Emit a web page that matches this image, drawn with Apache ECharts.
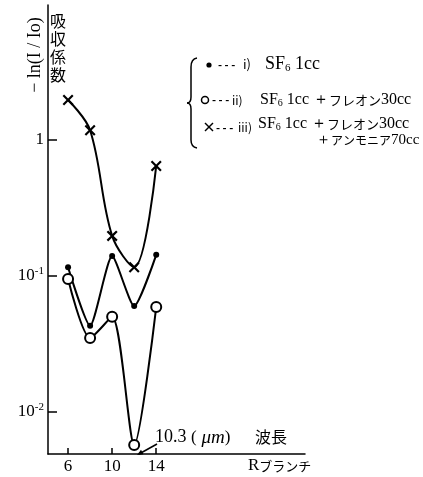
<!DOCTYPE html>
<html>
<head>
<meta charset="utf-8">
<script src="https://cdn.jsdelivr.net/npm/echarts@6/dist/echarts.min.js"></script>
<style>
  html, body { margin: 0; padding: 0; background: #fff; }
  #chart { width: 423px; height: 477px; }
</style>
</head>
<body>
<div id="chart"></div>
<script>
// 波長（Rブランチ）の位置
const branchPos = [6, 8, 10, 12, 14]
// i) SF6 1cc
const sf6Only = [0.116, 0.043, 0.140, 0.060, 0.143]
// ii) SF6 1cc + フレオン30cc
const sf6Freon = [0.095, 0.035, 0.050, 0.0057, 0.059]
// iii) SF6 1cc + フレオン30cc + アンモニア70cc
const sf6FreonNh3 = [1.97, 1.18, 0.197, 0.116, 0.644]
// 軸の目盛
const xTickValues = [6, 10, 14]
const yTickValues = [0.01, 0.1, 1]

const serif = "'Liberation Serif', 'DejaVu Serif', serif"
const jp = "'Noto Sans CJK JP', sans-serif"

const toPairs = arr => branchPos.map((x, i) => [x, arr[i]])

const chart = echarts.init(document.getElementById('chart'))

const crossPath = 'path://M0,1.4L1.4,0L5,3.6L8.6,0L10,1.4L6.4,5L10,8.6L8.6,10L5,6.4L1.4,10L0,8.6L3.6,5Z'

const lineBase = {
  type: 'line',
  smooth: 0.3,
  lineStyle: { color: '#000', width: 2 },
  itemStyle: { color: '#000' },
  emphasis: { disabled: true },
  z: 3
}

const black = { stroke: '#000', lineWidth: 1.5, fill: 'none' }

// 凡例・注記の文字を置く小さな関数
const txt = (x, y, text, font, extra, rotation) => ({
  type: 'text', x: x, y: y, rotation: rotation || 0,
  style: Object.assign({ text: text, font: font, fill: '#000', verticalAlign: 'middle' }, extra || {})
})

// 凡例の一行（SF6 1cc + フレオン30cc）
const mixRich = {
  m: { font: '16px ' + serif, fill: '#000' },
  ms: { font: '10px ' + serif, fill: '#000', padding: [7, 0, 0, 0] },
  j: { font: '13px ' + jp, fill: '#000' }
}
const smallRich = {
  m: { font: '15px ' + serif, fill: '#000' },
  j: { font: '12px ' + jp, fill: '#000' }
}

const option = {
  animation: false,
  backgroundColor: '#fff',
  grid: { left: 48, right: 118, top: 5, bottom: 23 },
  xAxis: {
    type: 'value',
    min: 4.18,
    max: 27.5,
    splitLine: { show: false },
    axisLine: { lineStyle: { color: '#000', width: 1.5 } },
    axisTick: { inside: true, length: 6, customValues: xTickValues, lineStyle: { color: '#000', width: 1.5 } },
    axisLabel: {
      customValues: xTickValues,
      margin: 4,
      color: '#000',
      fontFamily: serif,
      fontSize: 17
    }
  },
  yAxis: {
    type: 'log',
    logBase: 10,
    min: 0.0049,
    max: 9.84,
    splitLine: { show: false },
    axisLine: { lineStyle: { color: '#000', width: 1.5 } },
    axisTick: { inside: true, length: 9, customValues: yTickValues, lineStyle: { color: '#000', width: 1.5 } },
    axisLabel: {
      customValues: yTickValues,
      margin: 4,
      color: '#000',
      fontFamily: serif,
      formatter: v => v >= 1 ? '{b|1}' : '{b|10}{s|-' + Math.round(-Math.log10(v)) + '}',
      rich: {
        b: { fontFamily: serif, fontSize: 17, color: '#000' },
        s: { fontFamily: serif, fontSize: 11, color: '#000', padding: [0, 0, 9, 0] }
      }
    }
  },
  series: [
    Object.assign({}, lineBase, {
      name: 'i',
      data: toPairs(sf6Only),
      symbol: 'circle',
      symbolSize: 6,
      smooth: 0.2
    }),
    Object.assign({}, lineBase, {
      name: 'ii',
      data: toPairs(sf6Freon),
      symbol: 'emptyCircle',
      symbolSize: 10,
      itemStyle: { color: '#000', borderWidth: 1.5 },
      smooth: 0.25
    }),
    Object.assign({}, lineBase, {
      name: 'iii',
      data: toPairs(sf6FreonNh3),
      symbol: crossPath,
      symbolSize: 11,
      smooth: 0.35
    })
  ],
  graphic: [
    // 縦軸の名前
    txt(35, 55, '− ln(I / Io)', '18px ' + serif, { align: 'center' }, Math.PI / 2),
    { type: 'text', x: 50, y: 12,
      style: { text: '吸\n収\n係\n数', font: '16px ' + jp, lineHeight: 18, fill: '#000' } },
    // 凡例の括弧
    { type: 'bezierCurve', shape: { x1: 197, y1: 58, cpx1: 191, cpy1: 59, x2: 191, y2: 67 }, style: black },
    { type: 'line', shape: { x1: 191, y1: 67, x2: 191, y2: 97 }, style: black },
    { type: 'bezierCurve', shape: { x1: 191, y1: 97, cpx1: 191, cpy1: 103, x2: 187, y2: 103 }, style: black },
    { type: 'bezierCurve', shape: { x1: 187, y1: 103, cpx1: 191, cpy1: 103, x2: 191, y2: 109 }, style: black },
    { type: 'line', shape: { x1: 191, y1: 109, x2: 191, y2: 140 }, style: black },
    { type: 'bezierCurve', shape: { x1: 191, y1: 140, cpx1: 191, cpy1: 147, x2: 197, y2: 148 }, style: black },
    // 凡例の記号
    { type: 'circle', shape: { cx: 209, cy: 65, r: 2.6 }, style: { fill: '#000' } },
    { type: 'circle', shape: { cx: 205, cy: 100, r: 3.5 }, style: { fill: '#fff', stroke: '#000', lineWidth: 1.5 } },
    { type: 'line', shape: { x1: 205, y1: 123, x2: 213, y2: 131 }, style: black },
    { type: 'line', shape: { x1: 213, y1: 123, x2: 205, y2: 131 }, style: black },
    // 凡例の文字
    txt(218, 65, '- - -', 'bold 11px ' + jp),
    txt(243, 64, 'i)', '13px ' + jp),
    txt(265, 64, '{b|SF}{bs|6}{b| 1cc}', '', {
      rich: {
        b: { font: '18px ' + serif, fill: '#000' },
        bs: { font: '11px ' + serif, fill: '#000', padding: [8, 0, 0, 0] }
      }
    }),
    txt(212, 100, '- - -', 'bold 11px ' + jp),
    txt(232, 100, 'ii)', '12px ' + jp),
    txt(260, 100, '{m|SF}{ms|6}{m| 1cc ＋}{j|フレオン}{m|30cc}', '', { rich: mixRich }),
    txt(216, 128, '- - -', 'bold 11px ' + jp),
    txt(238, 127, 'iii)', '12px ' + jp),
    txt(258, 124, '{m|SF}{ms|6}{m| 1cc ＋}{j|フレオン}{m|30cc}', '', { rich: mixRich }),
    txt(316, 140, '{m|＋}{j|アンモニア}{m|70cc}', '', { rich: smallRich }),
    // 10.3 μm の注記
    { type: 'line', shape: { x1: 157, y1: 444, x2: 139, y2: 454 }, style: black },
    { type: 'polygon', shape: { points: [[137, 455], [143.4, 454.2], [141, 449.8]] }, style: { fill: '#000' } },
    txt(155, 437, '10.3', '18px ' + serif),
    txt(191, 438, '{p|(}{i| μm}{p|)}', '', {
      rich: {
        p: { font: '17px ' + serif, fill: '#000' },
        i: { font: 'italic 19px ' + serif, fill: '#000' }
      }
    }),
    txt(255, 437, '波長', '16px ' + jp),
    txt(248, 466, '{r|R}{j|ブランチ}', '', {
      rich: {
        r: { font: '17px ' + serif, fill: '#000' },
        j: { font: '13px ' + jp, fill: '#000' }
      }
    })
  ]
}

chart.setOption(option)
</script>
</body>
</html>
